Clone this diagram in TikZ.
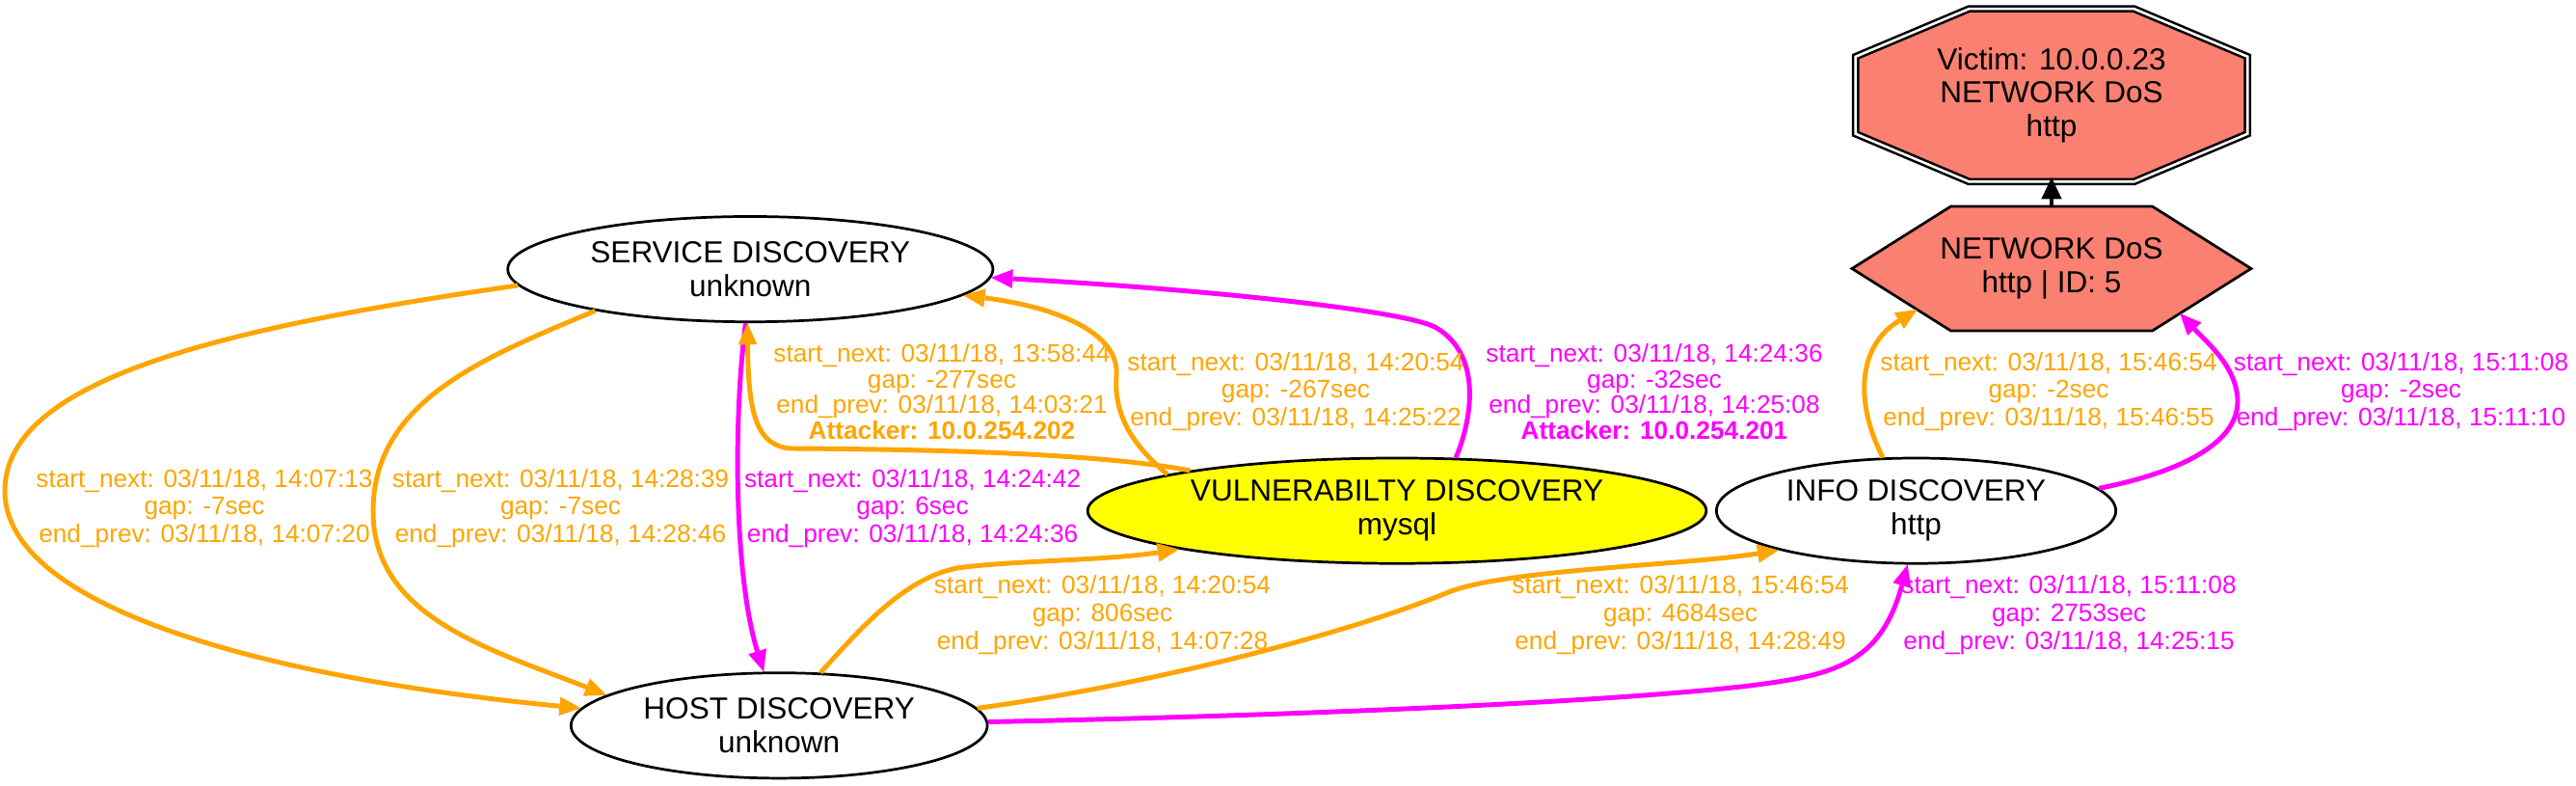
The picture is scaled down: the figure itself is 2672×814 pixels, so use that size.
\documentclass[tikz,border=0pt]{standalone}
\usepackage{fontspec}
\setmainfont{Liberation Sans}
\usepackage{tikz}
\usetikzlibrary{arrows.meta,calc,shapes.geometric}

\definecolor{dosred}{HTML}{FA8072}
\definecolor{edgeorange}{HTML}{FFA500}
\definecolor{edgemagenta}{HTML}{FF00FF}
\definecolor{vulnyellow}{HTML}{FFFF00}

\begin{document}
\begin{tikzpicture}[x=0.58682pt,y=-0.58682pt,
	state/.style={ellipse,draw,fill=white,line width=1.6pt,inner sep=0pt,
		minimum height=64.1pt,align=center,font={\fontsize{18.5}{20.4}\selectfont}},
	box/.style={inner sep=0pt,align=center,font={\fontsize{18.5}{20.4}\selectfont}},
	orangeline/.style={edgeorange,line width=2.9pt,
		-{Triangle[length=13pt,width=11.5pt,line width=0pt]}},
	magentaline/.style={edgemagenta,line width=2.9pt,
		-{Triangle[length=13pt,width=11.5pt,line width=0pt]}},
	blackline/.style={black,line width=2pt,shorten >=-2.5pt,
		-{Triangle[length=13pt,width=12.5pt,line width=0pt]}},
	lbl/.style={align=center,inner sep=0pt,font={\fontsize{15.4}{16.8}\selectfont}},
	lbltight/.style={align=center,inner sep=0pt,font={\fontsize{15.4}{15.6}\selectfont}}]
	
	\useasboundingbox (0,0) rectangle (2672,814);
	
	% victim and attack nodes
	\coordinate (vicc) at (2128,98.75);
	\draw[fill=dosred,line width=1.5pt,double=white,double distance=1.5pt,shift={(vicc)}]
		(-85.5,-89.65) coordinate (vic-nw) -- (85.5,-89.65) coordinate (vic-ne)
		-- (203.3,-40) -- (203.3,40) -- (85.5,89.65) coordinate (vic-se)
		-- (-85.5,89.65) coordinate (vic-sw) -- (-203.3,40) -- (-203.3,-40) -- cycle;
	\node[box] (victim) at (vicc) {Victim: 10.0.0.23\\NETWORK DoS\\http};
	
	\coordinate (dosc) at (2128,278.5);
	\draw[fill=dosred,line width=1.6pt,shift={(dosc)}]
		(-207,0) coordinate (dos-w) -- (-104.5,-64.5) coordinate (dos-nw)
		-- (104.5,-64.5) coordinate (dos-ne) -- (207,0) coordinate (dos-e)
		-- (104.5,64.5) coordinate (dos-se) -- (-104.5,64.5) coordinate (dos-sw) -- cycle;
	\node[box] (dos) at (dosc) {NETWORK DoS\\http | ID: 5};
	
	\node[state,minimum width=295.3pt] (svc) at (778.3,279.1) {SERVICE DISCOVERY\\unknown};
	\node[state,minimum width=253.4pt] (host) at (808.2,752.3) {HOST DISCOVERY\\unknown};
	\node[state,fill=vulnyellow,minimum width=376.6pt] (vuln) at (1449,529.6) {VULNERABILTY DISCOVERY\\mysql};
	\node[state,minimum width=243.1pt] (info) at (1987.5,529.6) {INFO DISCOVERY\\http};
	
	% edges
	\draw[orangeline] (svc.184) .. controls (237,339) and (5,392) .. (5,509)
		.. controls (5,630) and (276,703) .. (host.175);
	\draw[orangeline] (svc.195) .. controls (504,370) and (387,415) .. (387,530)
		.. controls (387,640) and (508,673) .. (host.170);
	\draw[magentaline] (svc.265) .. controls (760,440) and (762,600) .. (host.106);
	\draw[orangeline] (vuln.169) .. controls (1150,472) and (1000,466) .. (820,465)
		.. controls (785,462) and (776,430) .. (svc.267);
	\draw[orangeline] (vuln.171) .. controls (1175,462) and (1155,430) .. (1158,390)
		.. controls (1162,345) and (1095,318) .. (svc.353);
	\draw[magentaline] (vuln.42) .. controls (1525,440) and (1540,370) .. (1490,340)
		.. controls (1460,322) and (1250,300) .. (svc.358);
	\draw[orangeline] (host.52) .. controls (890,655) and (940,595) .. (1000,588)
		.. controls (1060,581) and (1149,581) .. (vuln.190);
	\draw[orangeline] (host.5) .. controls (1180,712) and (1390,660) .. (1500,615)
		.. controls (1560,590) and (1741,587) .. (info.196);
	\draw[magentaline] (host.1) .. controls (1300,743) and (1650,730) .. (1815,711)
		.. controls (1900,700) and (1950,690) .. (info.261);
	\draw[orangeline] (info.122) .. controls (1925,420) and (1925,360) .. ($(dos-w)!.66!(dos-sw)$);
	\draw[magentaline] (info.7) .. controls (2260,490) and (2322,460) .. (2321,415)
		.. controls (2320,380) and (2289,355) .. ($(dos-se)!.28!(dos-e)$);
	\draw[blackline] ($(dos-nw)!.5!(dos-ne)$) -- ($(vic-sw)!.5!(vic-se)$);
	
	% edge labels
	\node[lbl,edgeorange] (l1) at (212,527) {start\_next: 03/11/18, 14:07:13\\gap: -7sec\\end\_prev: 03/11/18, 14:07:20};
	\node[lbl,edgeorange] (l2) at (581.5,527) {start\_next: 03/11/18, 14:28:39\\gap: -7sec\\end\_prev: 03/11/18, 14:28:46};
	\node[lbl,edgemagenta] (l3) at (946.6,527) {start\_next: 03/11/18, 14:24:42\\gap: 6sec\\end\_prev: 03/11/18, 14:24:36};
	\node[lbltight,edgeorange] (l4) at (977,406) {start\_next: 03/11/18, 13:58:44\\gap: -277sec\\end\_prev: 03/11/18, 14:03:21\\\textbf{Attacker: 10.0.254.202}};
	\node[lbl,edgeorange] (l5) at (1344,406) {start\_next: 03/11/18, 14:20:54\\gap: -267sec\\end\_prev: 03/11/18, 14:25:22};
	\node[lbltight,edgemagenta] (l6) at (1716,406) {start\_next: 03/11/18, 14:24:36\\gap: -32sec\\end\_prev: 03/11/18, 14:25:08\\\textbf{Attacker: 10.0.254.201}};
	\node[lbl,edgeorange] (l7) at (1143.5,637.8) {start\_next: 03/11/18, 14:20:54\\gap: 806sec\\end\_prev: 03/11/18, 14:07:28};
	\node[lbl,edgeorange] (l8) at (1743,637.8) {start\_next: 03/11/18, 15:46:54\\gap: 4684sec\\end\_prev: 03/11/18, 14:28:49};
	\node[lbl,edgemagenta] (l9) at (2146,637.8) {start\_next: 03/11/18, 15:11:08\\gap: 2753sec\\end\_prev: 03/11/18, 14:25:15};
	\node[lbl,edgeorange] (l10) at (2125,406) {start\_next: 03/11/18, 15:46:54\\gap: -2sec\\end\_prev: 03/11/18, 15:46:55};
	\node[lbl,edgemagenta] (l11) at (2490.5,406) {start\_next: 03/11/18, 15:11:08\\gap: -2sec\\end\_prev: 03/11/18, 15:11:10};
\end{tikzpicture}
\end{document}
